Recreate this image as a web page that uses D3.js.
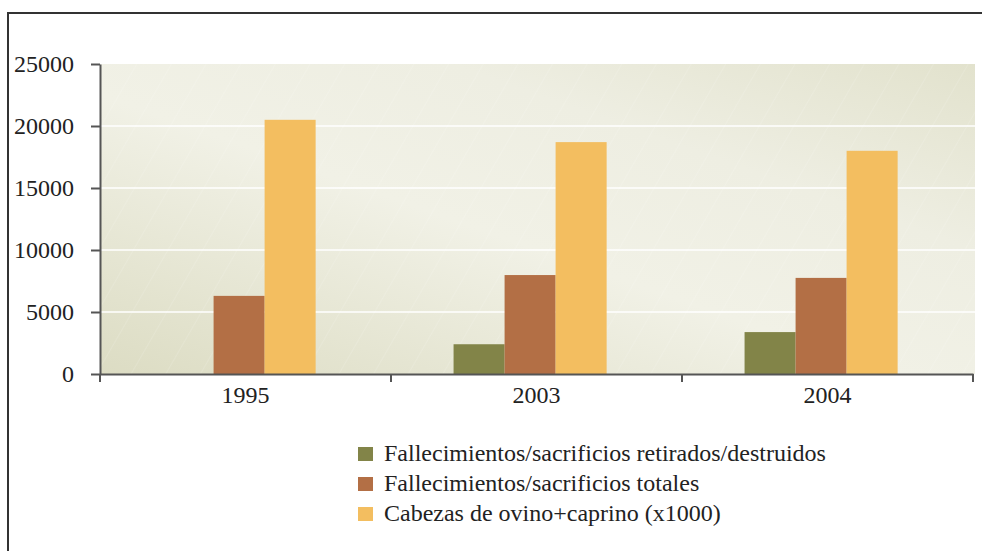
<!DOCTYPE html>
<html>
<head>
<meta charset="utf-8">
<script src="https://cdn.jsdelivr.net/npm/d3@7"></script>
<style>
  body { margin: 0; background: #fff; }
  svg { display: block; font-family: "Liberation Serif", "DejaVu Serif", serif; }
</style>
</head>
<body>
<div id="chart"></div>
<script>
// Data
const years = ['1995', '2003', '2004'];
const seriesNames = [
  'Fallecimientos/sacrificios retirados/destruidos',
  'Fallecimientos/sacrificios totales',
  'Cabezas de ovino+caprino (x1000)'
];
const retirados = [0, 2400, 3380];
const totales = [6300, 7980, 7750];
const cabezas = [20500, 18700, 18000];
const colors = ['#828448', '#b36f45', '#f3be60'];
const yTicks = [0, 5000, 10000, 15000, 20000, 25000];

const W = 982, H = 551;
const plot = { left: 100, right: 975, top: 64, bottom: 374 };

const svg = d3.select('#chart').append('svg')
  .attr('width', W).attr('height', H);

// Background gradient of the plot area
const defs = svg.append('defs');
const grad = defs.append('linearGradient')
  .attr('id', 'bg').attr('x1', '0%').attr('y1', '100%').attr('x2', '100%').attr('y2', '0%');
grad.append('stop').attr('offset', '0%').attr('stop-color', '#dcdcc3');
grad.append('stop').attr('offset', '45%').attr('stop-color', '#f1f1e6');
grad.append('stop').attr('offset', '70%').attr('stop-color', '#eeeee2');
grad.append('stop').attr('offset', '100%').attr('stop-color', '#e2e2cd');

const pat = defs.append('pattern')
  .attr('id', 'hatch').attr('patternUnits', 'userSpaceOnUse')
  .attr('width', 30).attr('height', 30)
  .attr('patternTransform', 'rotate(30)');
pat.append('line').attr('x1', 0).attr('y1', 0).attr('x2', 0).attr('y2', 30)
  .attr('stroke', '#ffffff').attr('stroke-opacity', 0.25).attr('stroke-width', 1);

// Frame (left and top lines)
svg.append('path')
  .attr('d', `M8,${H} L8,13 L${W},13`)
  .attr('fill', 'none').attr('stroke', '#333').attr('stroke-width', 2);

svg.append('rect')
  .attr('x', plot.left).attr('y', plot.top)
  .attr('width', plot.right - plot.left).attr('height', plot.bottom - plot.top)
  .attr('fill', 'url(#bg)');
svg.append('rect')
  .attr('x', plot.left).attr('y', plot.top)
  .attr('width', plot.right - plot.left).attr('height', plot.bottom - plot.top)
  .attr('fill', 'url(#hatch)');

const y = d3.scaleLinear().domain([0, 25000]).range([plot.bottom, plot.top]);
const x0 = d3.scaleBand().domain(years).range([plot.left, 973]).padding(0);
const bw = x0.bandwidth();
const x1 = d3.scaleBand().domain(d3.range(3)).range([bw * 0.215, bw * 0.741]).padding(0);

// Gridlines
svg.append('g').selectAll('line')
  .data(yTicks.filter(t => t > 0 && t < 25000))
  .join('line')
  .attr('x1', plot.left).attr('x2', plot.right)
  .attr('y1', d => y(d)).attr('y2', d => y(d))
  .attr('stroke', '#fff').attr('stroke-width', 1.5);

// Bars
const rows = years.map((yr, i) => ({ yr, vals: [retirados[i], totales[i], cabezas[i]] }));
const g = svg.append('g').selectAll('g')
  .data(rows).join('g')
  .attr('transform', d => `translate(${x0(d.yr)},0)`);
g.selectAll('rect')
  .data(d => d.vals.map((v, k) => ({ v, k })))
  .join('rect')
  .attr('x', d => x1(d.k))
  .attr('width', x1.bandwidth())
  .attr('y', d => y(d.v))
  .attr('height', d => y(0) - y(d.v))
  .attr('fill', d => colors[d.k]);

// Y axis
const yAxis = svg.append('g')
  .attr('transform', `translate(${plot.left},0)`)
  .call(d3.axisLeft(y).tickValues(yTicks).tickFormat(d3.format('d'))
    .tickSize(9).tickSizeOuter(0).tickPadding(17));
yAxis.select('.domain').attr('stroke', '#555').attr('stroke-width', 2);
yAxis.selectAll('.tick line').attr('stroke', '#555').attr('stroke-width', 2);
yAxis.selectAll('text').attr('font-size', 24).attr('fill', '#222')
  .attr('font-family', '"Liberation Serif", serif');

// X axis with ticks at category boundaries
const xAxis = svg.append('g')
  .attr('transform', `translate(0,${plot.bottom})`)
  .call(d3.axisBottom(x0).tickSize(0).tickPadding(12));
xAxis.select('.domain').attr('stroke', '#555').attr('stroke-width', 2);
xAxis.selectAll('text').attr('font-size', 24).attr('fill', '#222')
  .attr('font-family', '"Liberation Serif", serif');
xAxis.selectAll('line.bound')
  .data(years.map(d => x0(d)).concat([x0(years[years.length - 1]) + bw]))
  .join('line').attr('class', 'bound')
  .attr('x1', d => d).attr('x2', d => d)
  .attr('y1', 0).attr('y2', 8)
  .attr('stroke', '#555').attr('stroke-width', 2);

// Legend
const legend = svg.append('g').attr('transform', 'translate(358,447)');
const li = legend.selectAll('g').data(seriesNames).join('g')
  .attr('transform', (d, i) => `translate(0,${i * 30})`);
li.append('rect').attr('width', 15).attr('height', 14).attr('y', 0)
  .attr('fill', (d, i) => colors[i]);
li.append('text').attr('x', 26).attr('y', 14)
  .attr('font-size', 24).attr('fill', '#222')
  .text(d => d);
</script>
</body>
</html>
